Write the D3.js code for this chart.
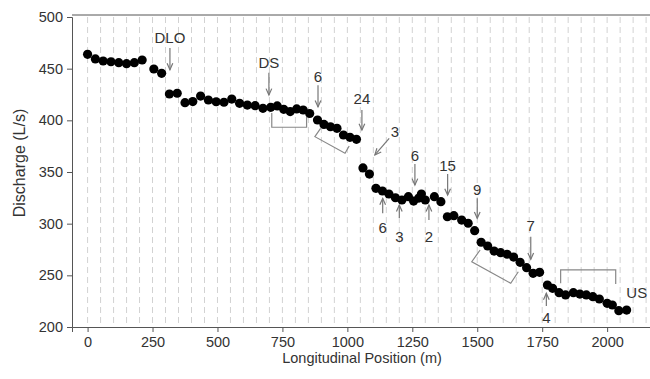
<!DOCTYPE html>
<html>
<head>
<meta charset="utf-8">
<script src="https://cdn.jsdelivr.net/npm/d3@7"></script>
<style>
  body { margin: 0; background: #fff; }
  text { font-family: "Liberation Sans", Arial, sans-serif; fill: #333; }
</style>
</head>
<body>
<div id="chart"></div>
<script>
// longitudinal position (m) and discharge (L/s)
const positions = [0, 30, 60, 90, 120, 150, 180, 210, 255, 285, 315, 345, 375, 405, 435, 465, 495, 525, 555, 585,
  615, 645, 675, 705, 730, 755, 780, 805, 830, 855, 885, 910, 935, 960, 985, 1010, 1035, 1060, 1085, 1110,
  1135, 1160, 1185, 1210, 1235, 1255, 1275, 1285, 1300, 1335, 1360, 1385, 1410, 1440, 1465, 1490, 1515, 1540, 1565, 1590,
  1615, 1640, 1665, 1690, 1715, 1740, 1770, 1790, 1815, 1840, 1870, 1895, 1920, 1945, 1970, 2000, 2020, 2045, 2075];
const discharge = [463.9, 459.4, 457.4, 456.7, 455.8, 454.8, 455.8, 458.4, 449.7, 445.5, 425.5, 426.2, 417.1, 418.2, 423.5, 419.7, 418, 417.5, 420.6, 416.5,
  414.8, 414.2, 411.6, 412.6, 413.9, 410.7, 408.5, 411, 410, 406.6, 400.3, 396, 393.8, 392.3, 385.8, 383.6, 381.6, 353.9, 348, 334.2,
  331.6, 328.7, 325.1, 322.9, 326.1, 321.9, 324.8, 328.7, 322.9, 326.1, 321.3, 306.7, 307.7, 303.5, 300.4, 293.2, 282, 278.4, 273.5, 271.9,
  270.4, 267.7, 262.6, 257.4, 251.9, 252.9, 240.6, 237.4, 233.2, 231, 233.2, 231.9, 231, 229.3, 227.1, 222.9, 221.3, 215.8, 216.4];

const xTicks = [0, 250, 500, 750, 1000, 1250, 1500, 1750, 2000];
const yTicks = [200, 250, 300, 350, 400, 450, 500];

// arrows: label, x, tail -> tip (discharge units), label baseline
const arrowLabels = ["DLO", "DS", "6", "24", "6", "3", "6", "2", "15", "9", "7", "4"];
const arrowX =      [317, 698, 887, 1056, 1136, 1200, 1260, 1314, 1386, 1500, 1706, 1766];
const arrowFrom =   [470, 446, 434, 410, 310, 305.5, 357.7, 303.5, 348, 324.5, 287.4, 220.3];
const arrowTo =     [449, 424.5, 413, 390.6, 324.5, 318, 337.4, 318, 327.7, 305.2, 265.5, 232.6];
const arrowLabelY = [475, 450.5, 437.4, 415.8, 290.5, 282.5, 360.9, 282.5, 351.3, 327.7, 292.9, 203.5];

// the slanted "3" arrow
const diagArrow = { label: "3", x1: 1161, y1: 382.6, x2: 1106, y2: 366.5, lx: 1183, ly: 384.2 };
const usLabel = { label: "US", x: 2114, y: 228 };

// brackets
const brackets = [
  [[709, 407.1], [709, 393.3], [843, 393.3], [843, 403.5]],
  [[897, 392.3], [875, 384.2], [991, 368.1], [1007, 375.2]],
  [[1511, 274.5], [1479, 263.2], [1629, 242.3], [1658, 253.5]],
  [[1821, 242.3], [1821, 255.2], [2033, 255.2], [2033, 241.6]]
];

const W = 650, H = 379;
const fs = "15px";
const svg = d3.select("#chart").append("svg").attr("width", W).attr("height", H);

const x = d3.scaleLinear().domain([-60, 2165]).range([72, 650]);
const y = d3.scaleLinear().domain([200, 500]).range([327, 17]);

// dashed vertical gridlines every 50 m
svg.append("g").selectAll("line")
  .data(d3.range(0, 2151, 50))
  .enter().append("line")
  .attr("x1", d => x(d)).attr("x2", d => x(d))
  .attr("y1", y(500)).attr("y2", y(200))
  .attr("stroke", "#d2d2d2").attr("stroke-dasharray", "6,4");

// top border
svg.append("line")
  .attr("x1", x(-60)).attr("x2", x(2165))
  .attr("y1", y(500) - 2).attr("y2", y(500) - 2)
  .attr("stroke", "#555");

const yAxis = svg.append("g")
  .attr("transform", "translate(" + x(-60) + ",0)")
  .call(d3.axisLeft(y).tickValues(yTicks).tickSize(5).tickPadding(4).tickFormat(d3.format("d")));
const xAxis = svg.append("g")
  .attr("transform", "translate(0," + y(200) + ")")
  .call(d3.axisBottom(x).tickValues(xTicks).tickSize(5).tickPadding(5).tickFormat(d3.format("d")));

[xAxis, yAxis].forEach(g => {
  g.select(".domain").attr("stroke", "#555");
  g.selectAll(".tick line").attr("stroke", "#555");
  g.selectAll(".tick text").style("font-size", "14.5px").attr("fill", "#333")
    .style("font-family", "'Liberation Sans', Arial, sans-serif");
});

svg.append("text")
  .attr("transform", "translate(25,163) rotate(-90)")
  .attr("text-anchor", "middle")
  .style("font-size", "16px")
  .text("Discharge (L/s)");

svg.append("text")
  .attr("x", 362).attr("y", 363)
  .attr("text-anchor", "middle")
  .style("font-size", "14.5px")
  .text("Longitudinal Position (m)");

// brackets
svg.append("g").selectAll("path")
  .data(brackets)
  .enter().append("path")
  .attr("d", d => d3.line().x(p => x(p[0])).y(p => y(p[1]))(d))
  .attr("fill", "none").attr("stroke", "#888").attr("stroke-width", 1.2);

// points
svg.append("g").selectAll("circle")
  .data(positions)
  .enter().append("circle")
  .attr("cx", d => x(d))
  .attr("cy", (d, i) => y(discharge[i]))
  .attr("r", 4.6)
  .attr("fill", "#000");

const arrowG = svg.append("g");

function drawArrow(x1, y1, x2, y2) {
  arrowG.append("line")
    .attr("x1", x1).attr("y1", y1).attr("x2", x2).attr("y2", y2)
    .attr("stroke", "#777").attr("stroke-width", 1.2);
  const a = Math.atan2(y2 - y1, x2 - x1);
  const len = 7, sp = 0.42;
  const p1 = [x2 - len * Math.cos(a - sp), y2 - len * Math.sin(a - sp)];
  const p2 = [x2 - len * Math.cos(a + sp), y2 - len * Math.sin(a + sp)];
  arrowG.append("path")
    .attr("d", "M" + p1 + "L" + x2 + "," + y2 + "L" + p2)
    .attr("fill", "none").attr("stroke", "#777").attr("stroke-width", 1.2);
}

arrowLabels.forEach((lab, i) => {
  drawArrow(x(arrowX[i]), y(arrowFrom[i]), x(arrowX[i]), y(arrowTo[i]));
  arrowG.append("text")
    .attr("x", x(arrowX[i])).attr("y", y(arrowLabelY[i]))
    .attr("text-anchor", "middle")
    .style("font-size", fs)
    .text(lab);
});

drawArrow(x(diagArrow.x1), y(diagArrow.y1), x(diagArrow.x2), y(diagArrow.y2));
arrowG.append("text")
  .attr("x", x(diagArrow.lx)).attr("y", y(diagArrow.ly))
  .attr("text-anchor", "middle").style("font-size", fs)
  .text(diagArrow.label);

arrowG.append("text")
  .attr("x", x(usLabel.x)).attr("y", y(usLabel.y))
  .attr("text-anchor", "middle").style("font-size", fs)
  .text(usLabel.label);
</script>
</body>
</html>
